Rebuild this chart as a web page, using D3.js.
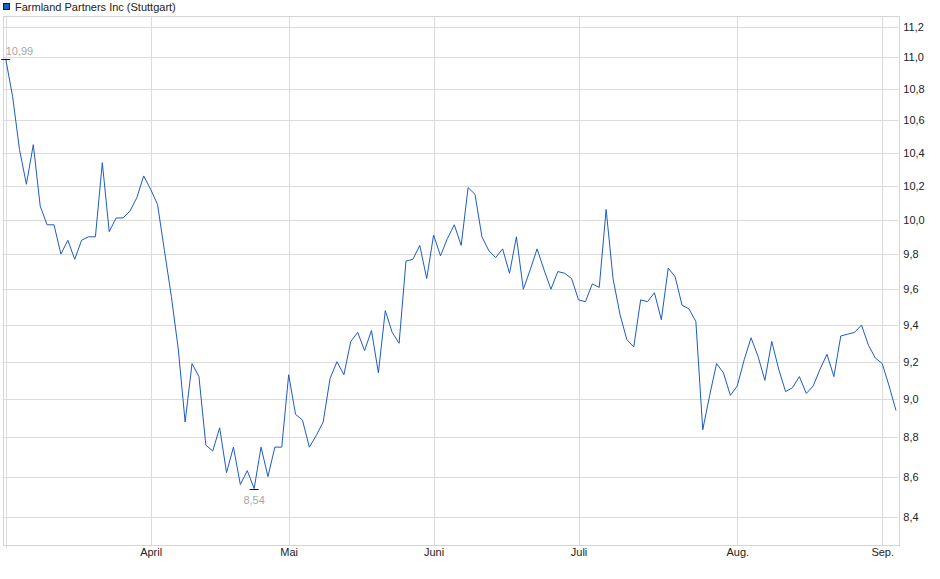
<!DOCTYPE html>
<html>
<head>
<meta charset="utf-8">
<script src="https://cdn.jsdelivr.net/npm/d3@7"></script>
<style>
    body { margin: 0; background: #fff; }
    svg { display: block; font-family: "Liberation Sans", Arial, sans-serif; }
</style>
</head>
<body>
<svg id="chart"></svg>
<script>
let title = "Farmland Partners Inc (Stuttgart)";

// closing prices, one per trading day
let prices = [
    10.99, 10.75, 10.42, 10.21, 10.45, 10.08, 9.97, 9.97, 9.80, 9.88,
    9.77, 9.88, 9.90, 9.90, 10.34, 9.93, 10.01, 10.01, 10.05, 10.13,
    10.26, 10.18, 10.09, 9.82, 9.56, 9.27, 8.88, 9.19, 9.12, 8.76,
    8.73, 8.85, 8.62, 8.75, 8.56, 8.63, 8.54, 8.75, 8.60, 8.75,
    8.75, 9.13, 8.92, 8.89, 8.75, 8.81, 8.88, 9.11, 9.20, 9.13,
    9.31, 9.36, 9.26, 9.37, 9.14, 9.48, 9.36, 9.30, 9.76, 9.77,
    9.85, 9.66, 9.91, 9.79, 9.89, 9.97, 9.85, 10.19, 10.15, 9.90,
    9.82, 9.78, 9.83, 9.69, 9.90, 9.60, 9.71, 9.83, 9.71, 9.60,
    9.70, 9.69, 9.66, 9.54, 9.53, 9.63, 9.61, 10.06, 9.66, 9.46,
    9.32, 9.28, 9.54, 9.53, 9.58, 9.43, 9.72, 9.67, 9.51, 9.49,
    9.42, 8.84, 9.02, 9.19, 9.14, 9.02, 9.07, 9.21, 9.33, 9.23,
    9.10, 9.31, 9.16, 9.04, 9.06, 9.12, 9.03, 9.07, 9.16, 9.24,
    9.12, 9.34, 9.35, 9.36, 9.40, 9.29, 9.22, 9.19, 9.07, 8.94
];

// first trading day of each month (index into prices)
let monthStart = [0, 21, 41, 62, 83, 106, 127];
let monthLabels = ["", "April", "Mai", "Juni", "Juli", "Aug.", "Sep."];

let yTicks = [8.4, 8.6, 8.8, 9.0, 9.2, 9.4, 9.6, 9.8, 10.0, 10.2, 10.4, 10.6, 10.8, 11.0, 11.2];
let yDomain = [8.26, 11.27];

let svgWidth = 940, svgHeight = 579;
let frame = {left: 2.7, right: 898.3, top: 16, bottom: 545.3};

let de = d3.formatLocale({decimal: ",", thousands: ".", grouping: [3], currency: ["", " €"]});
let fmt1 = de.format(".1f");
let fmt2 = de.format(".2f");

let svg = d3.select("#chart")
    .attr("width", svgWidth)
    .attr("height", svgHeight);

let x = d3.scaleLinear()
    .domain([0, prices.length - 1])
    .range([5.7, 896]);

let y = d3.scaleLog()
    .domain(yDomain)
    .range([frame.bottom, frame.top]);

// grid
svg.append("g")
    .selectAll("line")
    .data(yTicks)
    .enter()
    .append("line")
    .attr("x1", frame.left)
    .attr("x2", frame.right)
    .attr("y1", function (d) { return Math.round(y(d)) + 0.5 })
    .attr("y2", function (d) { return Math.round(y(d)) + 0.5 })
    .attr("stroke", "#dcdcdc");

svg.append("g")
    .selectAll("line")
    .data(monthStart)
    .enter()
    .append("line")
    .attr("x1", function (d) { return Math.round(x(d)) + 0.5 })
    .attr("x2", function (d) { return Math.round(x(d)) + 0.5 })
    .attr("y1", frame.top)
    .attr("y2", function (d) { return d === 0 ? frame.bottom + 3 : frame.bottom })
    .attr("stroke", "#dcdcdc");

// frame
svg.append("rect")
    .attr("x", Math.round(frame.left) + 0.5)
    .attr("y", Math.round(frame.top) + 0.5)
    .attr("width", Math.round(frame.right - frame.left))
    .attr("height", Math.round(frame.bottom - frame.top))
    .attr("fill", "none")
    .attr("stroke", "#d4d4d4");

// y axis labels on the right
let yAxis = d3.axisRight(y)
    .tickValues(yTicks)
    .tickSize(0)
    .tickPadding(5)
    .tickFormat(function (d) { return fmt1(d) });

svg.append("g")
    .attr("transform", "translate(" + frame.right + ",0)")
    .call(yAxis)
    .call(function (g) { g.select(".domain").remove() })
    .selectAll("text")
    .attr("font-size", 11)
    .attr("fill", "#222")
    .attr("font-family", "Liberation Sans, Arial, sans-serif");

// x axis labels
let xAxis = d3.axisBottom(x)
    .tickValues(monthStart.slice(1))
    .tickSize(0)
    .tickPadding(3)
    .tickFormat(function (d) { return monthLabels[monthStart.indexOf(d)] });

svg.append("g")
    .attr("transform", "translate(0," + frame.bottom + ")")
    .call(xAxis)
    .call(function (g) { g.select(".domain").remove() })
    .selectAll("text")
    .attr("font-size", 11)
    .attr("fill", "#222")
    .attr("font-family", "Liberation Sans, Arial, sans-serif");

// price line
let line = d3.line()
    .x(function (d, i) { return x(i) })
    .y(function (d) { return y(d) });

svg.append("path")
    .datum(prices)
    .attr("d", line)
    .attr("fill", "none")
    .attr("stroke", "#1c5cc4")
    .attr("stroke-width", 1);

// high / low markers
let hi = d3.maxIndex(prices);
let lo = d3.minIndex(prices);

function marker(i, above) {
    let px = x(i), py = Math.round(y(prices[i])) + 0.5;
    svg.append("line")
        .attr("x1", px - 4.5)
        .attr("x2", px + 4.5)
        .attr("y1", py)
        .attr("y2", py)
        .attr("stroke", "#111")
        .attr("stroke-width", 1);
    svg.append("text")
        .attr("x", above ? px : px)
        .attr("y", above ? py - 5 : py + 14)
        .attr("text-anchor", above ? "start" : "middle")
        .attr("font-size", 11)
        .attr("fill", "#a9a6a2")
        .text(fmt2(prices[i]));
}
marker(hi, true);
marker(lo, false);

// legend
svg.append("rect")
    .attr("x", 3.5)
    .attr("y", 3.5)
    .attr("width", 6)
    .attr("height", 6)
    .attr("fill", "#1c5cc4")
    .attr("stroke", "#1a1a2e");

svg.append("text")
    .attr("x", 15)
    .attr("y", 10.5)
    .attr("font-size", 11)
    .attr("fill", "#222")
    .text(title);
</script>
</body>
</html>
